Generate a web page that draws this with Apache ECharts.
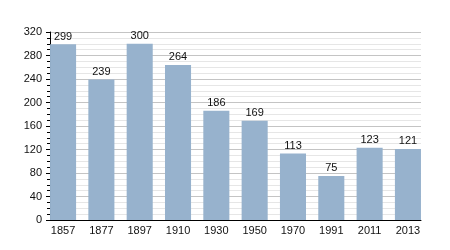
<!DOCTYPE html>
<html><head><meta charset="utf-8">
<script src="https://cdn.jsdelivr.net/npm/echarts@6/dist/echarts.min.js"></script>
<style>html,body{margin:0;padding:0;background:#fff}#c{width:450px;height:250px}</style>
</head><body><div id="c"></div>
<script>
const categories = ['1857','1877','1897','1910','1930','1950','1970','1991','2011','2013'];
const values = [299,239,300,264,186,169,113,75,123,121];
const yTicks = [0,40,80,120,160,200,240,280,320];

const font = 'Liberation Sans, Arial';
const yMin = yTicks[0], yMax = yTicks[yTicks.length-1];
const chart = echarts.init(document.getElementById('c'));
chart.setOption({
  animation:false,
  grid:[{left:50,right:29,top:32,bottom:30},{left:43.9,right:22.9,top:32,bottom:30}],
  xAxis:[
    {gridIndex:0,type:'category',data:categories,
      axisLine:{lineStyle:{color:'#000',width:1}},axisTick:{show:false},axisLabel:{show:false}},
    {gridIndex:1,type:'category',data:categories,
      axisLine:{show:false},axisTick:{show:false},
      axisLabel:{color:'#111',fontSize:11,fontFamily:font,margin:5}}
  ],
  yAxis:[
    {gridIndex:0,type:'value',min:yMin,max:yMax,interval:40,
      axisLine:{show:true,lineStyle:{color:'#000'}},
      axisTick:{show:true,length:4,lineStyle:{color:'#000'}},
      minorTick:{show:true,splitNumber:4,length:3,lineStyle:{color:'#000'}},
      splitLine:{lineStyle:{color:'#c4c4c4'}},
      minorSplitLine:{show:true,lineStyle:{color:'#e6e6e6'}},
      axisLabel:{color:'#111',fontSize:11,fontFamily:font,margin:8}},
    {gridIndex:1,type:'value',min:yMin,max:yMax,interval:40,show:false}
  ],
  series:[{type:'bar',xAxisIndex:1,yAxisIndex:1,data:values,barCategoryGap:'32%',
    itemStyle:{color:'#97b2cd'},
    label:{show:true,position:'top',color:'#111',fontSize:11,fontFamily:font,distance:2}}]
});
</script></body></html>
